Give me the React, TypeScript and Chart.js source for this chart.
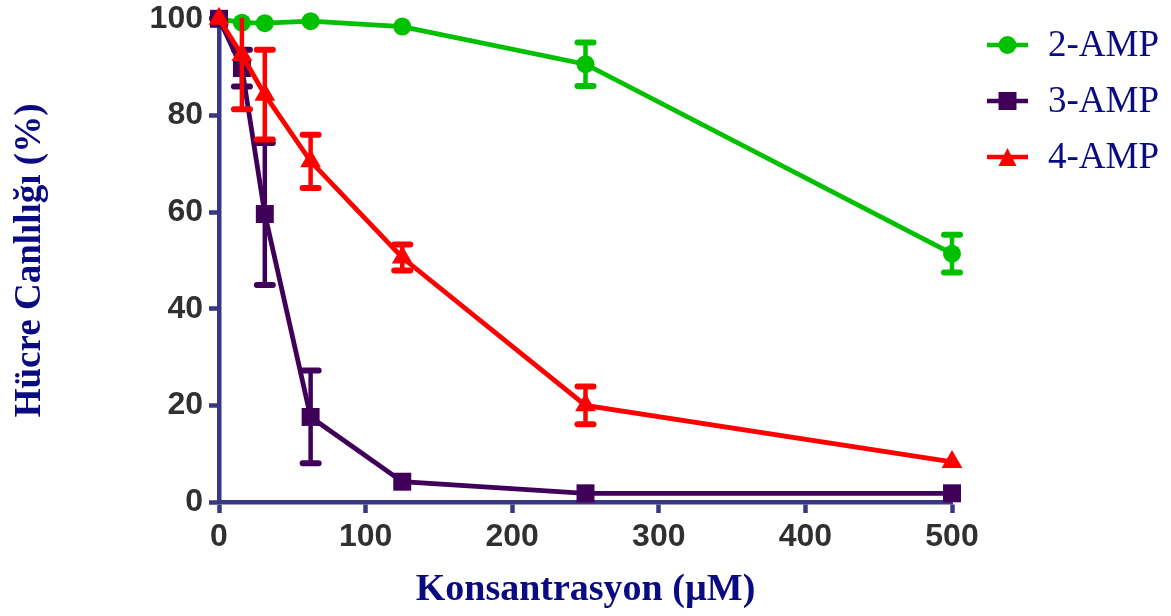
import React, { useEffect, useRef } from "react";
import { Chart, registerables } from "chart.js";

Chart.register(...registerables);

// ---- Data ----
const concentrations = [0, 15.625, 31.25, 62.5, 125, 250, 500];
const seriesLabels = ["2-AMP", "3-AMP", "4-AMP"];
const amp2 = [100, 99.2, 99.1, 99.5, 98.4, 90.6, 51.4];
const amp2Err = [0, 0, 0, 0, 0, 4.5, 3.9];
const amp3 = [100, 89.8, 59.6, 17.6, 4.2, 1.8, 1.8];
const amp3Err = [0, 3.8, 14.7, 9.6, 0, 0, 0];
const amp4 = [100, 92.5, 84.3, 70.5, 50.6, 20.0, 8.3];
const amp4Err = [0, 11.2, 9.3, 5.5, 2.7, 3.9, 0];
const xTicks = [0, 100, 200, 300, 400, 500];
const yTicks = [0, 20, 40, 60, 80, 100];
const xTitle = "Konsantrasyon (\u00b5M)";
const yTitle = "H\u00fccre Canl\u0131l\u0131\u011f\u0131 (%)";

// ---- Styles ----
const colors = ["#00c000", "#40005a", "#ff0000"];
const pointStyles = ["circle", "rect", "triangle"];
const pointRadii = [9, 12.7, 12];
const axisColor = "#383882";
const navy = "#0a0a82";
const tickColor = "#303030";

const valueSets = [amp2, amp3, amp4];
const errorSets = [amp2Err, amp3Err, amp4Err];

const errorBarPlugin = {
  id: "errorBars",
  afterDatasetDraw(chart: any, args: any) {
    const i = args.index;
    const errs = errorSets[i];
    const vals = valueSets[i];
    const { ctx, chartArea } = chart;
    const xs = chart.scales.x;
    const ys = chart.scales.y;
    ctx.save();
    ctx.beginPath();
    ctx.rect(0, chartArea.top - 1, chart.width, chart.height);
    ctx.clip();
    ctx.strokeStyle = colors[i];
    for (let k = 0; k < vals.length; k++) {
      if (!errs[k]) continue;
      const px = xs.getPixelForValue(concentrations[k]);
      const top = ys.getPixelForValue(vals[k] + errs[k]);
      const bot = ys.getPixelForValue(vals[k] - errs[k]);
      ctx.lineWidth = 4.5;
      ctx.lineCap = "butt";
      ctx.beginPath();
      ctx.moveTo(px, top);
      ctx.lineTo(px, bot);
      ctx.stroke();
      ctx.lineWidth = 6;
      ctx.lineCap = "round";
      for (const cy of [top, bot]) {
        ctx.beginPath();
        ctx.moveTo(px - 8, cy);
        ctx.lineTo(px + 8, cy);
        ctx.stroke();
      }
    }
    ctx.restore();
  },
};

const legendPlugin = {
  id: "sideLegend",
  afterDraw(chart: any) {
    const { ctx } = chart;
    const rowY = [45, 101, 157];
    const x0 = 987;
    const x1 = 1028;
    const mx = (x0 + x1) / 2;
    ctx.save();
    seriesLabels.forEach((label, i) => {
      const cy = rowY[i];
      ctx.strokeStyle = colors[i];
      ctx.fillStyle = colors[i];
      ctx.lineWidth = 4.5;
      ctx.beginPath();
      ctx.moveTo(x0, cy);
      ctx.lineTo(x1, cy);
      ctx.stroke();
      ctx.beginPath();
      if (pointStyles[i] === "circle") {
        ctx.arc(mx, cy, 9, 0, Math.PI * 2);
      } else if (pointStyles[i] === "rect") {
        ctx.rect(mx - 9, cy - 9, 18, 18);
      } else {
        ctx.moveTo(mx, cy - 9);
        ctx.lineTo(mx + 9, cy + 9);
        ctx.lineTo(mx - 9, cy + 9);
        ctx.closePath();
      }
      ctx.fill();
      ctx.fillStyle = navy;
      ctx.font = "37px 'Liberation Serif', 'Times New Roman', serif";
      ctx.textAlign = "left";
      ctx.textBaseline = "middle";
      ctx.fillText(label, 1048, cy + 1);
    });
    ctx.restore();
  },
};

export default function App() {
  const canvasRef = useRef<HTMLCanvasElement | null>(null);

  useEffect(() => {
    document.body.style.margin = "0";
    const canvas = canvasRef.current;
    if (!canvas) return;

    const datasets = seriesLabels.map((label, i) => ({
      label,
      data: concentrations.map((c, k) => ({ x: c, y: valueSets[i][k] })),
      borderColor: colors[i],
      backgroundColor: colors[i],
      borderWidth: 4.8,
      pointStyle: pointStyles[i],
      pointRadius: pointRadii[i],
      pointHoverRadius: pointRadii[i],
      pointBorderWidth: 0,
      pointBackgroundColor: colors[i],
      tension: 0,
      clip: false,
      order: 2 - i,
    }));

    const xTickFont = { family: "'Liberation Sans', Arial, sans-serif", size: 32, weight: "bold" as const };
    const yTickFont = { family: "'Liberation Sans', Arial, sans-serif", size: 32, weight: "bold" as const, lineHeight: 0.8 };
    const xTitleFont = { family: "'Liberation Serif', 'Times New Roman', serif", size: 38, weight: "bold" as const };
    const yTitleFont = { family: "'Liberation Serif', 'Times New Roman', serif", size: 37, weight: "bold" as const };

    const chart = new Chart(canvas, {
      type: "line",
      data: { datasets },
      plugins: [errorBarPlugin, legendPlugin],
      options: {
        animation: false,
        responsive: false,
        devicePixelRatio: 1,
        layout: { padding: { left: 0, top: 17, right: 219, bottom: 0 } },
        plugins: {
          legend: { display: false },
          tooltip: { enabled: false },
        },
        scales: {
          x: {
            type: "linear",
            min: 0,
            max: 500,
            afterBuildTicks: (s: any) => {
              s.ticks = xTicks.map((v) => ({ value: v }));
            },
            afterFit: (s: any) => {
              s.height = 114;
            },
            border: { display: true, color: axisColor, width: 4.5 },
            grid: {
              drawOnChartArea: false,
              drawTicks: true,
              tickLength: 11,
              tickColor: axisColor,
              tickWidth: 4.5,
              color: axisColor,
            },
            ticks: { color: tickColor, font: xTickFont, padding: 5, maxRotation: 0 },
            title: {
              display: true,
              text: xTitle,
              color: navy,
              font: xTitleFont,
              padding: { top: 0, bottom: 3 },
            },
          },
          y: {
            type: "linear",
            min: 0,
            max: 100,
            afterBuildTicks: (s: any) => {
              s.ticks = yTicks.map((v) => ({ value: v }));
            },
            afterFit: (s: any) => {
              s.width = 219;
            },
            border: { display: true, color: axisColor, width: 4.5 },
            grid: {
              drawOnChartArea: false,
              drawTicks: true,
              tickLength: 10,
              tickColor: axisColor,
              tickWidth: 4.5,
              color: axisColor,
            },
            ticks: { color: tickColor, font: yTickFont, padding: 6 },
            title: {
              display: true,
              text: yTitle,
              color: navy,
              font: yTitleFont,
              padding: { top: 8, bottom: 0 },
            },
          },
        },
      },
    } as any);

    return () => {
      chart.destroy();
    };
  }, []);

  return (
    <div style={{ width: 1171, height: 616, position: "relative", background: "#ffffff" }}>
      <canvas ref={canvasRef} width={1171} height={616} style={{ display: "block" }} />
    </div>
  );
}
